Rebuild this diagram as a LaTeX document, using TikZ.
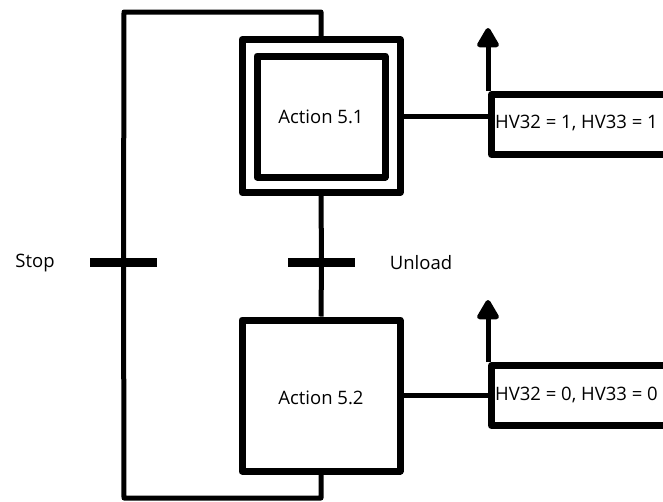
\documentclass[tikz,border=0pt]{standalone}
\usepackage{fontspec}
\setmainfont{Open Sans}
\usetikzlibrary{arrows.meta}
\begin{document}
\begin{tikzpicture}[x=1pt,y=-1pt,
  every node/.style={font=\fontsize{18.5}{20}\selectfont},
  stepbox/.style={draw,line width=7pt,line join=round,minimum width=#1,minimum height=#1,inner sep=0pt},
  linkline/.style={line width=5pt,line join=round},
  bar/.style={fill=black,minimum width=67pt,minimum height=9pt,inner sep=0pt},
  actbox/.style={draw,line width=7pt,line join=round,minimum width=260pt,minimum height=60pt,inner sep=0pt},
  txt/.style={inner sep=0pt},
  act/.style={line width=5pt,-{Triangle[width=24pt,length=22pt,round]}}
]
\useasboundingbox (0,0) rectangle (663,501);
\clip (0,0) rectangle (663,501);
% step 5.1 (initial step, double box)
\node[stepbox=153pt,minimum width=158pt] (s1o) at (321,116) {};
\node[stepbox=121pt,minimum width=128pt] (s1) at (321,116.5) {};
\node[txt] (s1t) at (321,117) {Action 5.1};
% step 5.2
\node[stepbox=151pt,minimum width=158pt] (s2) at (321,395.5) {};
\node[txt] (s2t) at (321,398) {Action 5.2};
% transitions
\node[bar] (t1) at (321.5,262) {};
\node[bar] (t2) at (123.5,262) {};
\node[txt] (t1l) at (421,263) {Unload};
\node[txt] (t2l) at (35,263) {Stop};
% links
\draw[linkline] (s1o.south) -- (t1.center) -- (s2.north);
\coordinate (lt) at (124,12);
\coordinate (lb) at (124,498);
\draw[linkline] (s2.south) -- (s2.south |- lb) -- (lb) -- (t2.center) -- (lt) -- (s1o.north |- lt) -- (s1o.north);
% action 1
\node[actbox,anchor=north west] (a1) at (488,91) {};
\node[txt,anchor=west] (a1t) at (495,123) {HV32 = 1, HV33 = 1};
\draw[linkline] (s1o.east) -- (s1o.east -| a1.west);
\coordinate (a1tip) at (488,28);
\draw[act] (a1.north west) -- (a1tip);
% action 2
\node[actbox,anchor=north west] (a2) at (488,362) {};
\node[txt,anchor=west] (a2t) at (495,395) {HV32 = 0, HV33 = 0};
\draw[linkline] (s2.east) -- (s2.east -| a2.west);
\coordinate (a2tip) at (488,300);
\draw[act] (a2.north west) -- (a2tip);
\end{tikzpicture}
\end{document}
